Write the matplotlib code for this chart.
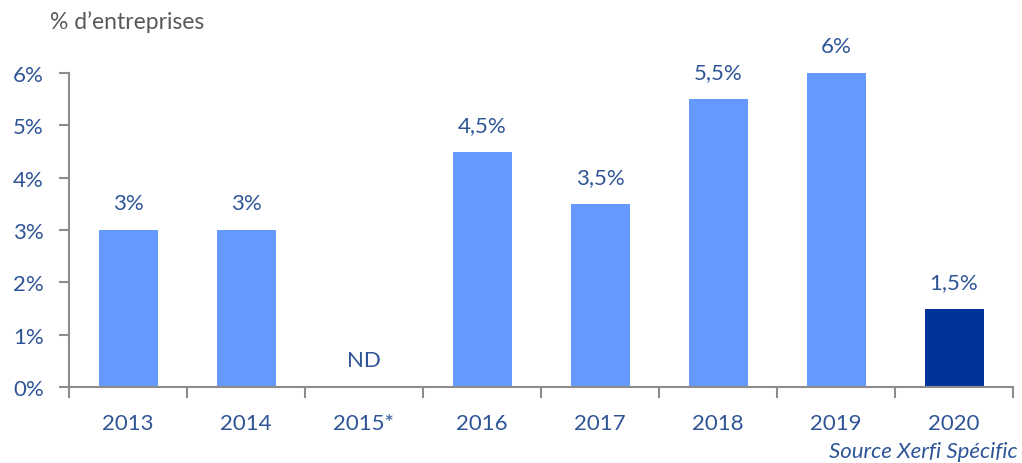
import matplotlib
matplotlib.use("Agg")
import matplotlib.pyplot as plt
from matplotlib.ticker import FixedLocator, FuncFormatter

categories = ["2013", "2014", "2015*", "2016", "2017", "2018", "2019", "2020"]
values = [3.0, 3.0, 0.0, 4.5, 3.5, 5.5, 6.0, 1.5]
value_labels = ["3%", "3%", "ND", "4,5%", "3,5%", "5,5%", "6%", "1,5%"]
y_ticks = [0, 1, 2, 3, 4, 5, 6]

light = "#6699FF"
dark = "#003399"
txt = "#2F5597"
axis_col = "#8C8C8C"

plt.rcParams['font.family'] = ['Lato', 'DejaVu Sans']

fig = plt.figure(figsize=(10.22, 4.64), dpi=100)
ax = fig.add_axes([69/1022, 76/464, (1013-69)/1022, (388-74)/464])

colors = [light]*(len(categories)-1) + [dark]
x = list(range(len(categories)))
ax.bar(x, values, width=0.5, color=colors, zorder=2)

for xi, v, lab in zip(x, values, value_labels):
    ax.annotate(lab, (xi, v), xytext=(0, 12), textcoords="offset points",
                ha="center", va="bottom", color=txt, fontsize=16,
                annotation_clip=False)

ax.set_xlim(-0.5, len(categories)-0.5)
ax.set_ylim(0, 6)
ax.yaxis.set_major_locator(FixedLocator(y_ticks))
ax.yaxis.set_major_formatter(FuncFormatter(lambda v, p: f"{int(v)}%"))
ax.set_xticks(x)
ax.set_xticklabels(categories)
ax.xaxis.set_minor_locator(FixedLocator([i - 0.5 for i in range(len(categories)+1)]))

for s in ["top", "right"]:
    ax.spines[s].set_visible(False)
for s in ["left", "bottom"]:
    ax.spines[s].set_color(axis_col)
    ax.spines[s].set_linewidth(1.5)

ax.tick_params(axis="y", direction="out", length=7, width=1.5, color=axis_col,
               labelcolor=txt, labelsize=16, pad=11)
ax.tick_params(axis="x", which="major", length=0, labelcolor=txt, labelsize=16, pad=18.5)
ax.tick_params(axis="x", which="minor", direction="out", length=8, width=1.5, color=axis_col)

fig.text(50/1022, 1 - 22/464, "% d\u2019entreprises", color="#595959", fontsize=16.5,
         ha="left", va="center")
fig.text(1018/1022, 1 - 452/464, "Source Xerfi Sp\u00e9cific", color=txt, fontsize=16,
         style="italic", ha="right", va="center")

fig.savefig("out.png", dpi=100)
